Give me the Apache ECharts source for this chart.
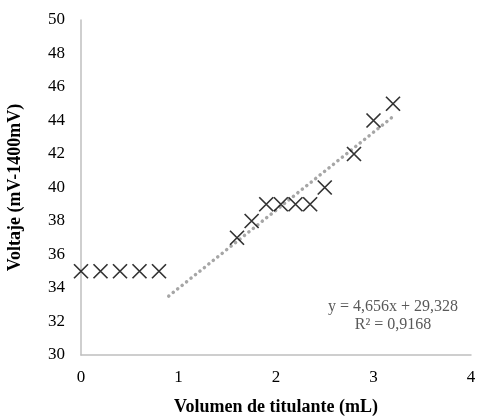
<!DOCTYPE html>
<html>
<head>
<meta charset="utf-8">
<script src="https://cdn.jsdelivr.net/npm/echarts@6/dist/echarts.min.js"></script>
<style>
  html, body { margin: 0; padding: 0; background: #fff; }
  #chart { width: 477px; height: 417px; }
</style>
</head>
<body>
<div id="chart"></div>
<script>
// volumen de titulante (mL) vs voltaje (mV-1400mV)
const volumen = [0, 0.2, 0.4, 0.6, 0.8, 1.6, 1.75, 1.9, 2.05, 2.2, 2.35, 2.5, 2.8, 3.0, 3.2]
const voltaje = [35, 35, 35, 35, 35, 37, 38, 39, 39, 39, 39, 40, 42, 44, 45]

// linea de tendencia (extremos)
const trendX = [0.9, 3.2]
const trendY = [33.52, 44.23]
const ecuacion = ['y = 4,656x + 29,328', 'R² = 0,9168']

const xTicks = [0, 1, 2, 3, 4]
const yTicks = [30, 32, 34, 36, 38, 40, 42, 44, 46, 48, 50]

const font = 'Liberation Serif'
const axisColor = '#bfbfbf'

const chart = echarts.init(document.getElementById('chart'))

const option = {
  animation: false,
  backgroundColor: '#fff',
  textStyle: { fontFamily: font },
  grid: { left: 81, right: 6, top: 20, bottom: 62, containLabel: false, outerBoundsMode: 'none' },
  xAxis: {
    type: 'value',
    min: xTicks[0],
    max: xTicks[xTicks.length - 1],
    interval: 1,
    name: 'Volumen de titulante (mL)',
    nameLocation: 'middle',
    nameGap: 43,
    nameTextStyle: { fontFamily: font, fontWeight: 'bold', fontSize: 18, color: '#000' },
    axisLine: { show: true, lineStyle: { color: axisColor, width: 1.5 } },
    axisTick: { show: false },
    splitLine: { show: false },
    axisLabel: { fontFamily: font, fontSize: 17, color: '#000', margin: 14 }
  },
  yAxis: {
    type: 'value',
    min: yTicks[0],
    max: yTicks[yTicks.length - 1],
    interval: 2,
    name: 'Voltaje (mV-1400mV)',
    nameLocation: 'middle',
    nameGap: 57,
    nameRotate: 90,
    nameTextStyle: { fontFamily: font, fontWeight: 'bold', fontSize: 18, color: '#000' },
    axisLine: { show: true, lineStyle: { color: axisColor, width: 1.5 } },
    axisTick: { show: false },
    splitLine: { show: false },
    axisLabel: { fontFamily: font, fontSize: 17, color: '#000', margin: 16 }
  },
  graphic: [{
    type: 'text',
    x: 393,
    y: 298,
    style: {
      text: ecuacion.join('\n'),
      fill: '#595959',
      font: '16px "Liberation Serif"',
      align: 'center',
      lineHeight: 18
    }
  }],
  series: [
    {
      type: 'line',
      data: trendX.map((x, i) => [x, trendY[i]]),
      symbol: 'none',
      lineStyle: { color: '#a6a6a6', width: 3.5, type: [0.1, 5.6], cap: 'round' },
      z: 1
    },
    {
      type: 'scatter',
      data: volumen.map((x, i) => [x, voltaje[i]]),
      symbol: 'path://M0,0L10,10M10,0L0,10',
      symbolSize: 14,
      itemStyle: { color: 'transparent', borderColor: '#000', borderWidth: 1.7 },
      z: 2
    }
  ]
}

chart.setOption(option)
</script>
</body>
</html>
